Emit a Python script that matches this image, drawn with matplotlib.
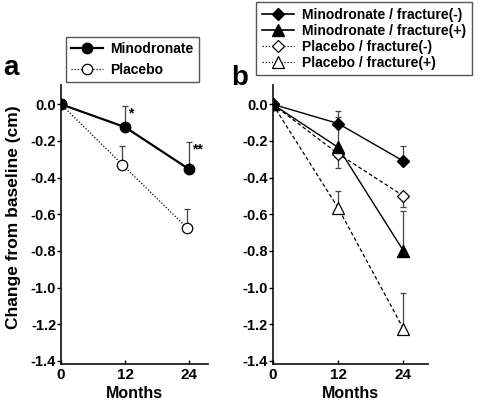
import numpy as np
import matplotlib
matplotlib.use('Agg')
from matplotlib import pyplot as plt
from matplotlib.lines import Line2D

plt.rcParams['font.family'] = ['Liberation Sans', 'DejaVu Sans']
plt.rcParams['font.weight'] = 'bold'

months = [0, 12, 24]

# panel a: change from baseline (cm), one-sided error bars
mino_a = [0.0, -0.125, -0.355]
mino_a_err = [0.0, 0.115, 0.148]
plac_a = [0.0, -0.33, -0.675]
plac_a_err = [0.0, 0.105, 0.105]
plac_a_months = [0, 11.5, 23.6]
stars = ['*', '**']

# panel b: by fracture status
mino_fm = [0.0, -0.105, -0.31]
mino_fm_err = [0.0, 0.07, 0.08]
mino_fp = [0.0, -0.235, -0.80]
mino_fp_err = [0.0, 0.165, 0.22]
plac_fm = [0.0, -0.27, -0.50]
plac_fm_err = [0.0, 0.075, 0.06]   # drawn downwards
plac_fp = [0.0, -0.565, -1.225]
plac_fp_err = [0.0, 0.09, 0.195]

yticks = [0.0, -0.2, -0.4, -0.6, -0.8, -1.0, -1.2, -1.4]
ytick_labels = ['0.0', '-0.2', '-0.4', '-0.6', '-0.8', '-1.0', '-1.2', '-1.4']

fig = plt.figure(figsize=(4.78, 4.08), dpi=100)
ax_a = fig.add_axes([61/478, 1-363.7/408, (208-61)/478, (363.7-85)/408])
ax_b = fig.add_axes([272.7/478, 1-363.7/408, (428-272.7)/478, (363.7-85)/408])

ecol = '#444444'


def style(ax, xmax):
    ax.set_xlim(0, xmax)
    ax.set_ylim(-1.415, 0.105)
    ax.spines['top'].set_visible(False)
    ax.spines['right'].set_visible(False)
    for s in ['left', 'bottom']:
        ax.spines[s].set_linewidth(1.3)
        ax.spines[s].set_color('#222222')
        ax.spines[s].set_zorder(1)
    ax.set_xticks(months)
    ax.set_xticklabels([str(m) for m in months], fontsize=11, fontweight='bold')
    ax.set_yticks(yticks)
    ax.set_yticklabels(ytick_labels, fontsize=10.5, fontweight='bold')
    ax.tick_params(axis='y', direction='out', length=3, width=1, pad=0.5)
    ax.tick_params(axis='x', direction='in', length=3, width=1, pad=3)
    ax.set_xlabel('Months', fontsize=11.5, fontweight='bold', labelpad=3)


# ---- panel a
ax_a.errorbar(months, mino_a, yerr=[np.zeros(3), mino_a_err], fmt='none',
              ecolor=ecol, elinewidth=0.9, capsize=2, capthick=0.9, zorder=2)
ax_a.errorbar(plac_a_months, plac_a, yerr=[np.zeros(3), plac_a_err], fmt='none',
              ecolor=ecol, elinewidth=0.9, capsize=2, capthick=0.9, zorder=2)
ax_a.plot(plac_a_months, plac_a, linestyle=(0, (1, 1.5)), color='black', linewidth=0.9,
          marker='o', markersize=7.5, markerfacecolor='white', markeredgecolor='black',
          markeredgewidth=0.9, zorder=3)
ax_a.plot(months, mino_a, linestyle='-', color='black', linewidth=1.6,
          marker='o', markersize=7.5, markerfacecolor='black', zorder=4)
for i, s in enumerate(stars):
    ax_a.text(months[i+1] + 0.6, mino_a[i+1] + mino_a_err[i+1], s, fontsize=10,
              ha='left', va='top', fontweight='bold')
style(ax_a, 27.5)
ax_a.set_ylabel('Change from baseline (cm)', fontsize=12.5, fontweight='bold')
ax_a.yaxis.set_label_coords(-0.27, 0.525)

ax_a.legend(handles=[
    Line2D([], [], color='black', linewidth=1.6, marker='o', markersize=7.5),
    Line2D([], [], color='black', linewidth=0.9, linestyle=(0, (1, 1.5)), marker='o',
           markersize=7.5, markerfacecolor='white', markeredgewidth=0.9)],
    labels=['Minodronate', 'Placebo'],
    loc='upper left', bbox_to_anchor=(65.7/478, 1-36.7/408), bbox_transform=fig.transFigure,
    borderaxespad=0, fancybox=False, edgecolor='#555555', framealpha=1,
    prop={'size': 10, 'weight': 'bold'}, handlelength=2.3, handletextpad=0.5,
    labelspacing=0.45, borderpad=0.4)

# ---- panel b
eb = dict(fmt='none', ecolor=ecol, elinewidth=0.9, capsize=2, capthick=0.9, zorder=2)
ax_b.errorbar(months, mino_fm, yerr=[np.zeros(3), mino_fm_err], **eb)
ax_b.errorbar(months, mino_fp, yerr=[np.zeros(3), mino_fp_err], **eb)
ax_b.errorbar(months, plac_fm, yerr=[plac_fm_err, np.zeros(3)], **eb)
ax_b.errorbar(months, plac_fp, yerr=[np.zeros(3), plac_fp_err], **eb)

dash = (0, (3, 2))
ax_b.plot(months, plac_fp, linestyle=dash, color='black', linewidth=0.9,
          marker='^', markersize=9, markerfacecolor='white', markeredgewidth=0.9, zorder=3)
ax_b.plot(months, plac_fm, linestyle=dash, color='black', linewidth=0.9,
          marker='D', markersize=6.5, markerfacecolor='white', markeredgewidth=0.9, zorder=3)
ax_b.plot(months, mino_fp, linestyle='-', color='black', linewidth=1.0,
          marker='^', markersize=9, markerfacecolor='black', zorder=4)
ax_b.plot(months, mino_fm, linestyle='-', color='black', linewidth=1.0,
          marker='D', markersize=6.5, markerfacecolor='black', zorder=4)
style(ax_b, 28.5)

dot = (0, (1, 1.5))
ax_b.legend(handles=[
    Line2D([], [], color='black', linewidth=1.2, marker='D', markersize=6.5),
    Line2D([], [], color='black', linewidth=1.2, marker='^', markersize=8),
    Line2D([], [], color='black', linewidth=0.9, linestyle=dot, marker='D', markersize=6.5,
           markerfacecolor='white', markeredgewidth=0.9),
    Line2D([], [], color='black', linewidth=0.9, linestyle=dot, marker='^', markersize=8,
           markerfacecolor='white', markeredgewidth=0.9)],
    labels=['Minodronate / fracture(-)', 'Minodronate / fracture(+)',
            'Placebo / fracture(-)', 'Placebo / fracture(+)'],
    loc='upper left', bbox_to_anchor=(256/478, 1-2/408), bbox_transform=fig.transFigure,
    borderaxespad=0, fancybox=False, edgecolor='#555555', framealpha=1,
    prop={'size': 10, 'weight': 'bold'}, handlelength=2.3, handletextpad=0.6,
    labelspacing=0.15, borderpad=0.4)

fig.text(3/478, 1-75/408, 'a', fontsize=20, fontweight='bold', ha='left', va='baseline')
fig.text(231/478, 1-85/408, 'b', fontsize=20, fontweight='bold', ha='left', va='baseline')

fig.savefig('out.png', dpi=100)
